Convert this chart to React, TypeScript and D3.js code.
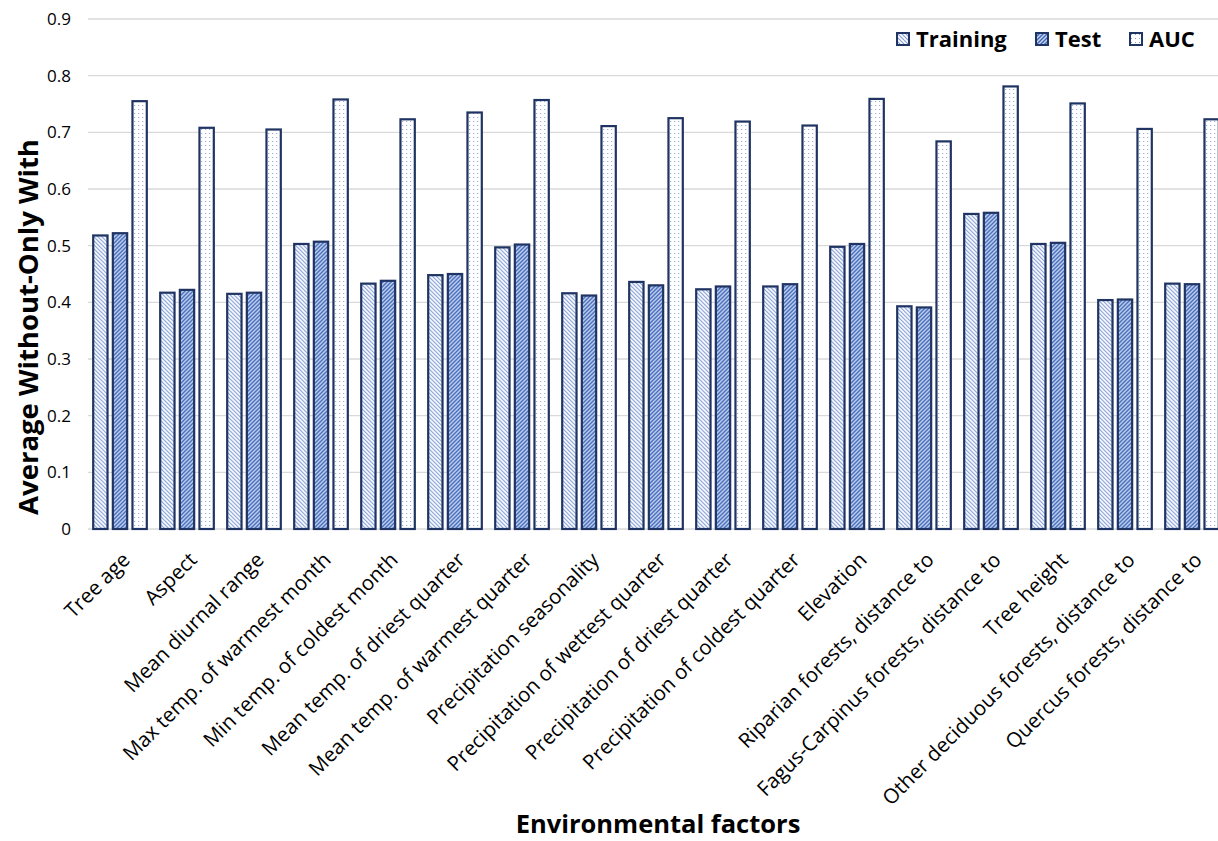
import React, { useEffect, useRef } from 'react';
import * as d3 from 'd3';

const categories = [
  'Tree age',
  'Aspect',
  'Mean diurnal range',
  'Max temp. of warmest month',
  'Min temp. of coldest month',
  'Mean temp. of driest quarter',
  'Mean temp. of warmest quarter',
  'Precipitation seasonality',
  'Precipitation of wettest quarter',
  'Precipitation of driest quarter',
  'Precipitation of coldest quarter',
  'Elevation',
  'Riparian forests, distance to',
  'Fagus-Carpinus forests, distance to',
  'Tree height',
  'Other deciduous forests, distance to',
  'Quercus forests, distance to',
];

const series = ['Training', 'Test', 'AUC'];

const training = [0.518, 0.417, 0.415, 0.503, 0.433, 0.448, 0.497, 0.416, 0.436, 0.423, 0.428, 0.498, 0.393, 0.556, 0.503, 0.404, 0.433];
const test = [0.522, 0.422, 0.417, 0.507, 0.438, 0.450, 0.502, 0.412, 0.430, 0.428, 0.432, 0.503, 0.391, 0.558, 0.505, 0.405, 0.432];
const auc = [0.755, 0.708, 0.705, 0.758, 0.723, 0.735, 0.757, 0.711, 0.725, 0.719, 0.712, 0.759, 0.684, 0.781, 0.751, 0.706, 0.723];

const yTicks = [0, 0.1, 0.2, 0.3, 0.4, 0.5, 0.6, 0.7, 0.8, 0.9];

const W = 1218;
const H = 841;

const App: React.FC = () => {
  const svgRef = useRef<SVGSVGElement>(null);

  useEffect(() => {
    document.body.style.margin = '0';
    if (!svgRef.current) return;
    const svg = d3.select(svgRef.current);
    svg.selectAll('*').remove();

    const plot = { left: 86.5, right: 1225.5, top: 19, bottom: 529 };
    const font = "'Open Sans', 'Liberation Sans', sans-serif";

    const y = d3.scaleLinear().domain([0, 0.9]).range([plot.bottom, plot.top]);
    const x0 = d3.scaleBand<string>().domain(categories).range([plot.left, plot.right]).paddingInner(0.2).paddingOuter(0.1);
    const x1 = d3.scaleBand<string>().domain(series).range([0, x0.bandwidth()]).paddingInner(0.27).paddingOuter(0);

    // fill patterns
    const defs = svg.append('defs');
    const p1 = defs.append('pattern').attr('id', 'pTrain').attr('patternUnits', 'userSpaceOnUse')
      .attr('width', 4).attr('height', 4);
    p1.append('rect').attr('width', 4).attr('height', 4).attr('fill', '#ffffff');
    p1.append('path').attr('d', 'M-1,-1 L5,5 M-1,3 L1,5 M3,-1 L5,1').attr('stroke', '#7f9bd4').attr('stroke-width', 1.1);

    const p2 = defs.append('pattern').attr('id', 'pTest').attr('patternUnits', 'userSpaceOnUse')
      .attr('width', 4).attr('height', 4);
    p2.append('rect').attr('width', 4).attr('height', 4).attr('fill', '#c9d6f0');
    p2.append('path').attr('d', 'M-1,5 L5,-1 M-1,1 L1,-1 M3,5 L5,3').attr('stroke', '#3e66b8').attr('stroke-width', 1.4);

    const p3 = defs.append('pattern').attr('id', 'pAuc').attr('patternUnits', 'userSpaceOnUse')
      .attr('width', 4).attr('height', 4);
    p3.append('rect').attr('width', 4).attr('height', 4).attr('fill', '#ffffff');
    p3.append('rect').attr('x', 1).attr('y', 1).attr('width', 1).attr('height', 1).attr('fill', '#7f9bd4');

    const fills: Record<string, string> = { Training: 'url(#pTrain)', Test: 'url(#pTest)', AUC: 'url(#pAuc)' };
    const values: Record<string, number[]> = { Training: training, Test: test, AUC: auc };

    // gridlines
    svg.append('g').selectAll('line').data(yTicks).enter().append('line')
      .attr('x1', 88).attr('x2', W)
      .attr('y1', d => y(d)).attr('y2', d => y(d))
      .attr('stroke', '#d9d9d9').attr('stroke-width', 1.3);

    // y tick labels
    svg.append('g').selectAll('text').data(yTicks).enter().append('text')
      .attr('x', 71).attr('y', d => y(d)).attr('dy', '0.35em')
      .attr('text-anchor', 'end').style('font-family', font).style('font-size', '17px').attr('fill', '#000')
      .text(d => (d === 0 ? '0' : d3.format('.1f')(d)));

    // bars
    const groups = svg.append('g').selectAll('g').data(categories).enter().append('g')
      .attr('transform', d => `translate(${x0(d)},0)`);
    groups.selectAll('rect')
      .data((_, i) => series.map(s => ({ s, v: values[s][i] })))
      .enter().append('rect')
      .attr('x', d => x1(d.s) as number)
      .attr('width', x1.bandwidth())
      .attr('y', d => y(d.v))
      .attr('height', d => y(0) - y(d.v))
      .attr('fill', d => fills[d.s])
      .attr('stroke', '#1f3463').attr('stroke-width', 2.2);

    // category labels
    svg.append('g').selectAll('text').data(categories).enter().append('text')
      .attr('transform', d => `translate(${(x0(d) as number) + x0.bandwidth() / 2 + 1},${plot.bottom + 22}) rotate(-45)`)
      .attr('text-anchor', 'end').attr('dy', '0.7em')
      .style('font-family', font).style('font-size', '20.5px').attr('fill', '#000')
      .text(d => d);

    // axis titles
    svg.append('text')
      .attr('transform', `translate(38,327) rotate(-90)`)
      .attr('text-anchor', 'middle').style('font-family', font).style('font-weight', 'bold')
      .style('font-size', '27.5px').attr('fill', '#000').text('Average Without-Only With');

    svg.append('text')
      .attr('x', 658).attr('y', 833)
      .attr('text-anchor', 'middle').style('font-family', font).style('font-weight', 'bold')
      .style('font-size', '25.5px').attr('fill', '#000').text('Environmental factors');

    // legend
    const legendX = [897, 1036, 1130];
    const lg = svg.append('g').selectAll('g').data(series).enter().append('g')
      .attr('transform', (_, i) => `translate(${legendX[i]},33)`);
    lg.append('rect').attr('width', 12).attr('height', 12)
      .attr('fill', d => fills[d]).attr('stroke', '#1f3463').attr('stroke-width', 2);
    lg.append('text').attr('x', 19).attr('y', 6).attr('dy', '0.36em')
      .style('font-family', font).style('font-weight', 'bold').style('font-size', '22px').attr('fill', '#000')
      .text(d => d);
  }, []);

  return <svg ref={svgRef} width={W} height={H} style={{ display: 'block', background: '#fff' }} />;
};

export default App;
